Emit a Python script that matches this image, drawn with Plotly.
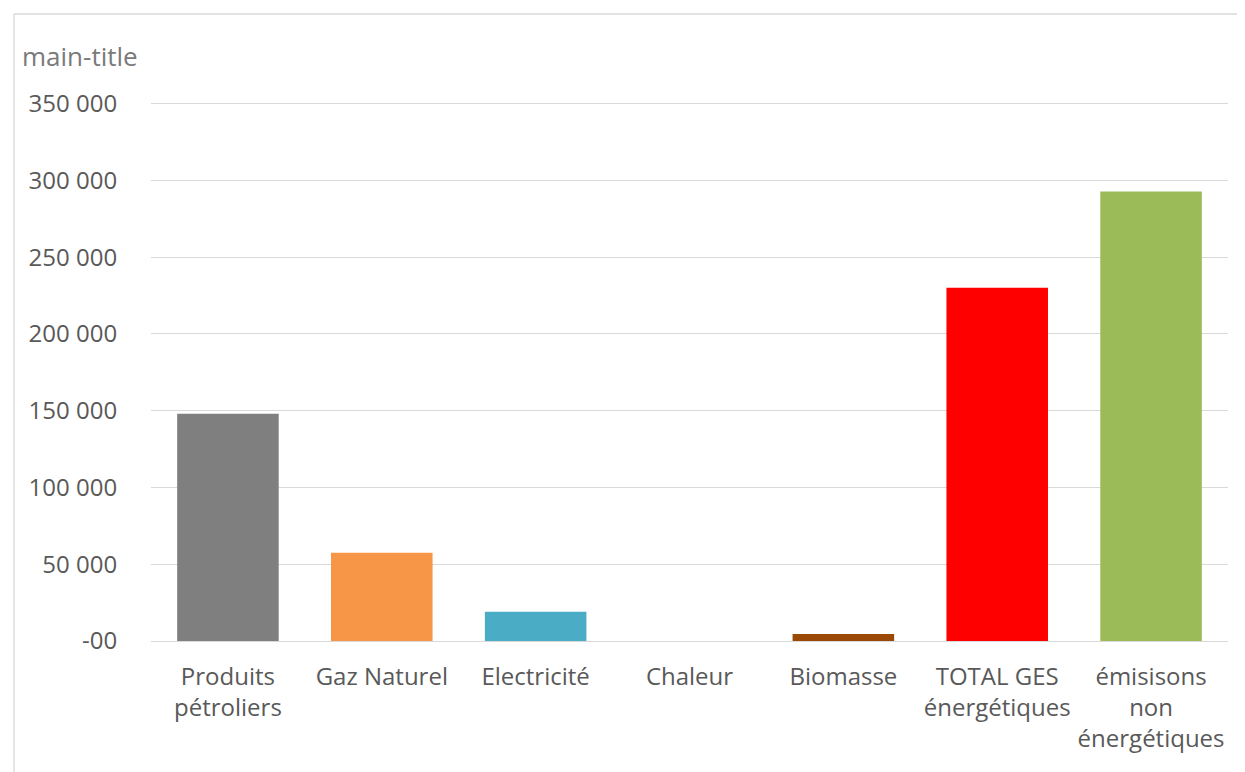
import plotly.graph_objects as go

categories = ["Produits<br>pétroliers", "Gaz Naturel", "Electricité", "Chaleur",
              "Biomasse", "TOTAL GES<br>énergétiques", "émisisons<br>non<br>énergétiques"]
values = [148000, 57500, 19000, 0, 4500, 230000, 292700]
colors = ["#7f7f7f", "#f79646", "#4bacc6", "#8064a2", "#9a4a06", "#ff0000", "#9bbb59"]
tick_vals = [0, 50000, 100000, 150000, 200000, 250000, 300000, 350000]
tick_text = ["-00", "50 000", "100 000", "150 000", "200 000", "250 000", "300 000", "350 000"]
title_text = "main-title"

OFF = 8  # page body margin
W, H = 1245 - 2 * OFF, 772 - OFF
L, R, T, B = 151 - OFF, 9, 94, 131
pw, ph = W - L - R, H - T - B

fig = go.Figure(go.Bar(x=categories, y=values, marker=dict(color=colors, line=dict(width=0)),
                       hoverinfo="x+y"))

font_family = "Open Sans, Lato, sans-serif"
fig.update_layout(
    width=W, height=H,
    margin=dict(l=L, r=R, t=T, b=B, autoexpand=False),
    paper_bgcolor="white", plot_bgcolor="white",
    bargap=0.34,
    showlegend=False,
    font=dict(family=font_family, size=24, color="#595959"),
    title=dict(text=title_text, xref="container", yref="container",
               x=(22 - OFF) / W, xanchor="left", y=1 - (57 - OFF) / H, yanchor="middle",
               font=dict(family=font_family, size=26, color="#7a7a7a")),
)
fig.update_yaxes(range=[0, 351000], tickvals=tick_vals, ticktext=tick_text,
                 showgrid=True, gridcolor="#d9d9d9", gridwidth=1.3,
                 zeroline=False, showline=False,
                 ticks="outside", ticklen=28, tickcolor="rgba(0,0,0,0)",
                 tickfont=dict(size=24, color="#595959"))
fig.update_xaxes(showline=True, linecolor="#d9d9d9", linewidth=1.3,
                 ticks="outside", ticklen=14, tickcolor="rgba(0,0,0,0)",
                 tickfont=dict(size=24, color="#595959"), tickangle=0)

# outer chart frame (left and top edges visible)
x_left = (14 - 151) / pw
x_right = (W + 5 - L) / pw
y_top = (H - B - (14 - OFF)) / ph
y_bot = -(B + 5) / ph
fig.add_shape(type="line", xref="paper", yref="paper", x0=x_left, x1=x_left, y0=y_bot, y1=y_top,
              line=dict(color="#d9d9d9", width=1.3))
fig.add_shape(type="line", xref="paper", yref="paper", x0=x_left, x1=x_right, y0=y_top, y1=y_top,
              line=dict(color="#d9d9d9", width=1.3))

fig.write_html("out.html")
